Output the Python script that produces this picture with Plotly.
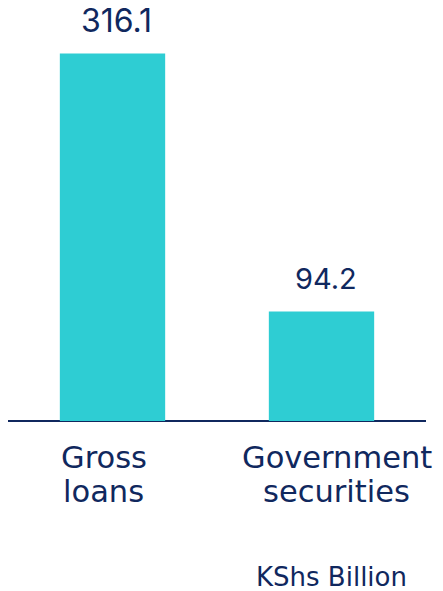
import plotly.graph_objects as go

categories = ["Gross loans", "Government securities"]
label_line1 = ["Gross", "Government"]
label_line2 = ["loans", "securities"]
values = [316.1, 94.2]
value_labels = ["316.1", "94.2"]
unit_label = "KShs Billion"

BAR = "#2ECDD3"
TXT = "#10285E"
NUM_FONT = "Inter"
CAT_FONT = "DejaVu Sans"

TOP, BASE = 14, 421
PH = BASE - TOP


def py(pix):
    return (BASE - pix) / PH


fig = go.Figure(go.Bar(x=categories, y=values, marker=dict(color=BAR, line=dict(width=0)),
                       width=0.504, hoverinfo="skip"))

num_sizes = [32, 29]
for c, v, t, s in zip(categories, values, value_labels, num_sizes):
    fig.add_annotation(x=c, y=v, text=t, showarrow=False, xref="x", yref="y",
                       yanchor="middle", yshift=33, xshift=4,
                       font=dict(family=NUM_FONT, size=s, color=TXT))

label_xshift = [-9, 15]
for c, l1, l2, s in zip(categories, label_line1, label_line2, label_xshift):
    fig.add_annotation(x=c, y=py(457), text=l1, showarrow=False, xref="x", yref="paper",
                       yanchor="middle", xshift=s,
                       font=dict(family=CAT_FONT, size=30.5, color=TXT))
    fig.add_annotation(x=c, y=py(491), text=l2, showarrow=False, xref="x", yref="paper",
                       yanchor="middle", xshift=s,
                       font=dict(family=CAT_FONT, size=30.5, color=TXT))

fig.add_annotation(x=(331 - 8) / 418, y=py(577), text=unit_label, showarrow=False,
                   xref="paper", yref="paper", xanchor="center", yanchor="middle",
                   font=dict(family=CAT_FONT, size=26, color=TXT))

fig.update_layout(
    width=443, height=591,
    margin=dict(l=8, r=17, t=TOP, b=591 - BASE),
    paper_bgcolor="white", plot_bgcolor="white",
    showlegend=False,
    xaxis=dict(showticklabels=False, showgrid=False, zeroline=False, showline=False,
               range=[-0.5, 1.5]),
    yaxis=dict(range=[0, 350], showticklabels=False, showgrid=False, showline=False,
               ticks="", zeroline=True, zerolinecolor=TXT, zerolinewidth=1.5),
)
fig.write_html("out.html")
